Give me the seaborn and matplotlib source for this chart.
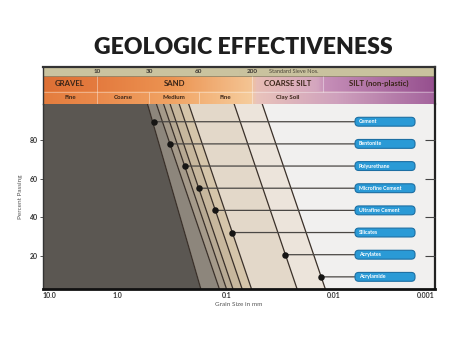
import numpy as np
import pandas as pd
import matplotlib
matplotlib.use("Agg")
import matplotlib.pyplot as plt
import seaborn as sns
from matplotlib.colors import LinearSegmentedColormap
from matplotlib.patches import FancyBboxPatch
from matplotlib.transforms import blended_transform_factory

# ---------------- data ----------------
grouts = ["Cement", "Bentonite", "Polyurethane", "Microfine Cement",
          "Ultrafine Cement", "Silicates", "Acrylates", "Acrylamide"]
dot_size_mm = [0.464, 0.330, 0.2425, 0.181, 0.1277, 0.0892, 0.0285, 0.0132]
dot_pct = [89.5, 78.0, 66.5, 55.0, 43.5, 32.0, 20.5, 9.0]
line_d100 = [0.536, 0.446, 0.384, 0.335, 0.277, 0.227, 0.0873, 0.0477]   # grain size at 100 % passing
line_d0 = [0.1675, 0.113, 0.0972, 0.0846, 0.0695, 0.0568, 0.0213, 0.0116]  # grain size at 0 % passing

x_ticks = [10.0, 1.0, 0.1, 0.01, 0.001]
x_tick_labels = ["10.0", "1.0", "0.1", "0.01", "0.001"]
y_ticks = [20, 40, 60, 80]

sieve_nos = ["10", "30", "60", "200"]
sieve_mm = [1.86, 0.51, 0.18, 0.058]
soil_classes = ["GRAVEL", "SAND", "COARSE SILT", "SILT (non-plastic)"]
soil_bounds = [10.0, 1.86, 0.058, 0.0127, 0.001]
sub_classes = ["Fine", "Coarse", "Medium", "Fine", "Clay Soil"]
sub_label_bounds = [10.0, 1.86, 0.51, 0.18, 0.058, 0.0127]
sub_seps = [1.86, 0.51, 0.18, 0.058]

# ---------------- style ----------------
sns.set_theme(style="white")
plt.rcParams["font.family"] = ["Lato", "DejaVu Sans"]

band_colors = ["#5b5752", "#8d867c", "#a59a8a", "#b7a993", "#c7b79d",
               "#d5c5aa", "#e3d8c9", "#ece4db"]
bg_color = "#f1f0ef"

# position (px along the 392 px axis, measured from the 0.001 end) of each decade
KU = np.array([-3.0, -2.0, -1.0, 0.0, 1.0])
KP = np.array([0.0, 101.0, 208.0, 318.0, 392.0])


def fwd(d):
    u = np.log10(np.clip(np.asarray(d, dtype=float), 1e-12, None))
    out = np.interp(u, KU, KP)
    out = np.where(u < KU[0], KP[0] + (u - KU[0]) * (KP[1] - KP[0]), out)
    out = np.where(u > KU[-1], KP[-1] + (u - KU[-1]) * (KP[-1] - KP[-2]), out)
    return out


def inv(p):
    p = np.asarray(p, dtype=float)
    u = np.interp(p, KP, KU)
    u = np.where(p < KP[0], KU[0] + (p - KP[0]) / (KP[1] - KP[0]), u)
    u = np.where(p > KP[-1], KU[-1] + (p - KP[-1]) / (KP[-1] - KP[-2]), u)
    return 10.0 ** u


def mid(a, b):
    return float(inv((fwd(a) + fwd(b)) / 2.0))


W, H = 474, 339
fig = plt.figure(figsize=(W / 100, H / 100), dpi=100)
fig.patch.set_facecolor("white")

L, R, T, B = 43, 435, 104, 289
ax = fig.add_axes([L / W, 1 - B / H, (R - L) / W, (B - T) / H])
ax.set_xscale("function", functions=(fwd, inv))
ax.set_facecolor(bg_color)

# bands between successive grout limit lines
ys = [100, 0]
for i, c in enumerate(band_colors):
    left = [20, 20] if i == 0 else [line_d100[i - 1], line_d0[i - 1]]
    right = [line_d100[i], line_d0[i]]
    ax.fill_betweenx(ys, left, right, color=c, lw=0, zorder=1)

# grout limit lines
line_df = pd.DataFrame({
    "grout": np.repeat(grouts, 2),
    "pct": np.tile([100.0, 0.0], len(grouts)),
    "size": np.ravel(np.column_stack([line_d100, line_d0])),
})
sns.lineplot(data=line_df, x="size", y="pct", units="grout", estimator=None,
             sort=False, color="#3a3029", lw=0.9, legend=False, ax=ax, zorder=2)

# labels / connectors
trans = blended_transform_factory(ax.transAxes, ax.transData)
BOX_X0, BOX_W, BOX_H = 0.796, 0.153, 4.6
for g, d, p in zip(grouts, dot_size_mm, dot_pct):
    ax.annotate("", xy=(d, p), xycoords="data", xytext=(BOX_X0, p),
                textcoords=("axes fraction", "data"),
                arrowprops=dict(arrowstyle="-", color="#4a4744", lw=0.9,
                                shrinkA=0, shrinkB=0), zorder=3)
    box = FancyBboxPatch((BOX_X0, p - BOX_H / 2), BOX_W, BOX_H,
                         boxstyle="round,pad=0,rounding_size=0.0095",
                         mutation_aspect=203, transform=trans,
                         fc="#2a9ad6", ec="#1d6fa3", lw=0.8, zorder=5)
    ax.add_patch(box)
    ax.text(BOX_X0 + 0.009, p, g, transform=trans, ha="left", va="center",
            color="white", fontsize=3.8, fontweight="bold", zorder=6)

sns.scatterplot(x=dot_size_mm, y=dot_pct, color="#161514", s=22, linewidth=0,
                zorder=7, ax=ax, legend=False)

# axes
ax.set_ylim(2.7, 98.7)
ax.set_yticks(y_ticks)
ax.set_yticklabels([str(v) for v in y_ticks])
ax.tick_params(axis="y", left=True, direction="inout", length=4, width=0.7,
               colors="#555555", labelsize=5, pad=1.5)
for t in ax.get_yticklabels():
    t.set_color("#333333")
    t.set_fontweight("bold")
ax.set_xticks(x_ticks)
ax.set_xticklabels(x_tick_labels)
ax.tick_params(axis="x", bottom=True, length=0, labelsize=5, pad=2.5)
for t in ax.get_xticklabels():
    t.set_color("#333333")
    t.set_fontweight("bold")
xl = ax.get_xticklabels()
xl[0].set_ha("left")
xl[-1].set_ha("right")
ax.set_xlabel("Grain Size in mm", fontsize=4.6, color="#555555", labelpad=1.5)
ax.set_ylabel("Percent Passing", fontsize=4.6, color="#555555", labelpad=5)
ax.spines["top"].set_visible(False)
ax.spines["left"].set_color("#333333"); ax.spines["left"].set_linewidth(1.0)
ax.spines["bottom"].set_color("#111111"); ax.spines["bottom"].set_linewidth(2.0)
ax.spines["right"].set_color("#222222"); ax.spines["right"].set_linewidth(1.6)
ax.grid(False)

# right side inward ticks
ax_r = ax.twinx()
ax_r.set_ylim(2.7, 98.7)
ax_r.set_yticks(y_ticks)
ax_r.tick_params(axis="y", direction="in", length=7, width=0.8,
                 colors="#444444", labelright=False)
for s in ax_r.spines.values():
    s.set_visible(False)
ax_r.grid(False)

# ---------------- header ----------------
HT = 67
axh = fig.add_axes([L / W, 1 - T / H, (R - L) / W, (T - HT) / H], sharex=ax)
r3, r2 = 12.5, 28.0
row1_cmap = LinearSegmentedColormap.from_list("r1", ["#cbc4a0", "#c9c29e"])
row2_cmap = LinearSegmentedColormap.from_list("r2", [
    (0.0, "#dd7035"), (0.138, "#e47b3f"), (0.33, "#ec9452"), (0.53, "#f4c493"),
    (0.545, "#e8bdb4"), (0.70, "#d4a6bf"), (0.72, "#c68fb8"), (1.0, "#96508f")])
row3_cmap = LinearSegmentedColormap.from_list("r3", [
    (0.0, "#e47d3e"), (0.138, "#ea8a4c"), (0.33, "#f1a464"), (0.53, "#f6cc9c"),
    (0.545, "#e9c3bb"), (0.75, "#cfa1bd"), (1.0, "#a4649d")])
grad = np.linspace(0, 1, 600)[None, :]
for cm, y0, y1 in [(row3_cmap, 0, r3), (row2_cmap, r3, r2), (row1_cmap, r2, 37)]:
    axh.imshow(grad, cmap=cm, extent=(0, 1, y0 / 37, y1 / 37),
               transform=axh.transAxes, aspect="auto", interpolation="bilinear",
               zorder=0)
axh.set_ylim(0, 37)

axh.axhline(r2, color="#8f876b", lw=0.6, zorder=2)
axh.axhline(r3, color="#ffffff", lw=0.5, alpha=0.5, zorder=2)
axh.vlines(soil_bounds[1:-1], r3, r2, color="#ffffff", lw=0.5, alpha=0.55, zorder=2)
axh.vlines(sub_seps, 0, r3, color="#ffffff", lw=0.5, alpha=0.55, zorder=2)

for name, d in zip(sieve_nos, sieve_mm):
    axh.text(d, (r2 + 37) / 2, name, ha="center", va="center", fontsize=4.6,
             fontweight="bold", color="#3a3530")
axh.annotate("Standard Sieve Nos.", xy=(sieve_mm[-1], (r2 + 37) / 2),
             xytext=(17, 0), textcoords="offset pixels", ha="left", va="center",
             fontsize=4.1, color="#4a4438")
for i, name in enumerate(soil_classes):
    axh.text(mid(soil_bounds[i], soil_bounds[i + 1]), (r3 + r2) / 2, name,
             ha="center", va="center", fontsize=5.6, fontweight="bold",
             color="#3a2518")
for i, name in enumerate(sub_classes):
    axh.text(mid(sub_label_bounds[i], sub_label_bounds[i + 1]), r3 / 2, name,
             ha="center", va="center", fontsize=4.4, fontweight="bold",
             color="#3a2518")

axh.tick_params(bottom=False, labelbottom=False, left=False, labelleft=False,
                top=False, right=False)
axh.spines["bottom"].set_visible(False)
axh.spines["top"].set_color("#333333"); axh.spines["top"].set_linewidth(1.6)
axh.spines["left"].set_color("#333333"); axh.spines["left"].set_linewidth(1.0)
axh.spines["right"].set_color("#222222"); axh.spines["right"].set_linewidth(1.6)
axh.grid(False)

ax.set_xlim(10, 0.001)

fig.text(243 / W, 1 - 47 / H, "GEOLOGIC EFFECTIVENESS", ha="center", va="center",
         fontsize=16.6, fontweight="heavy", color="#1e1e1e")

fig.savefig("out.png", dpi=100, facecolor="white")
